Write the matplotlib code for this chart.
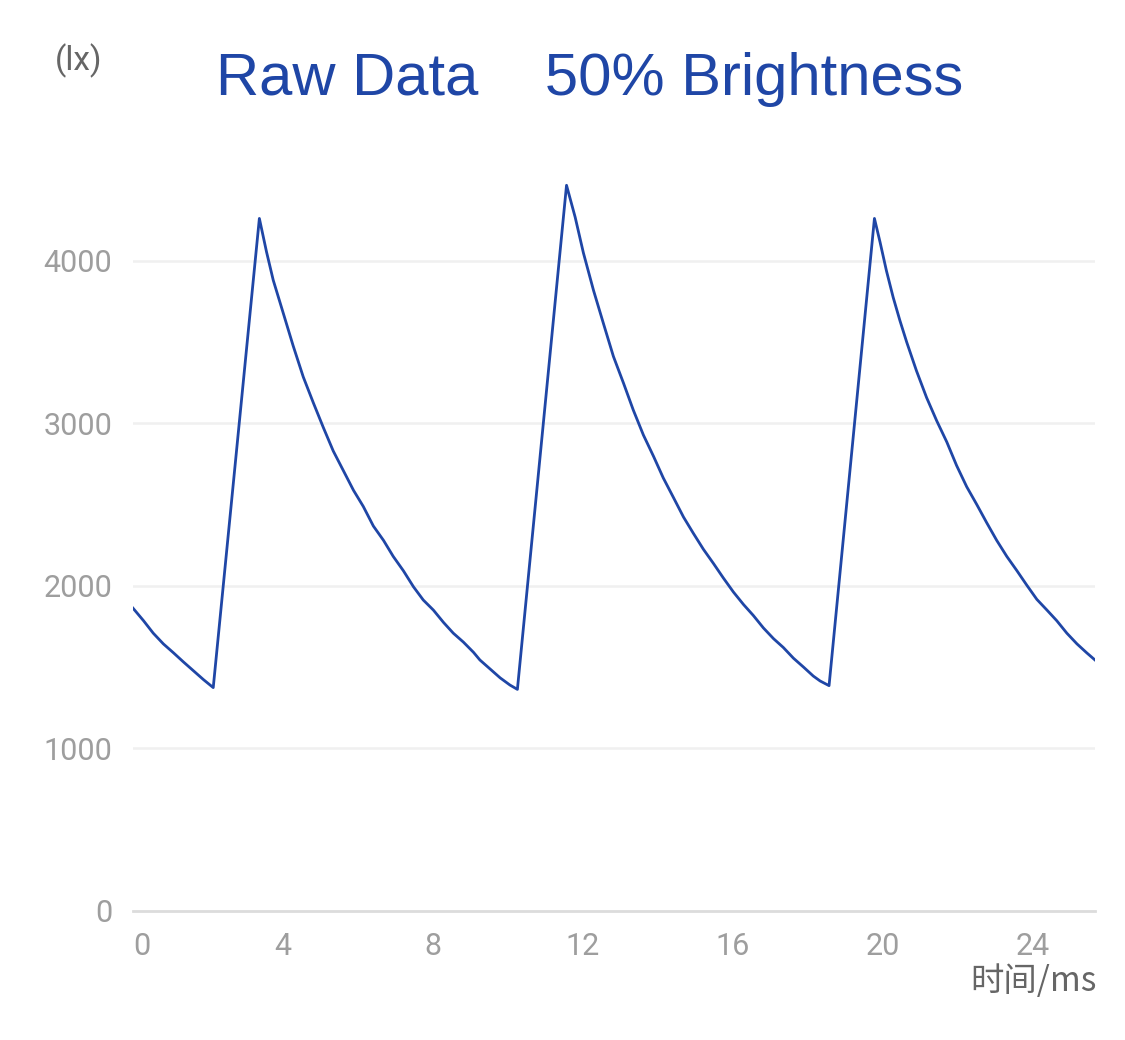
import matplotlib
matplotlib.use('Agg')
import matplotlib.pyplot as plt

# time (ms) and illuminance (lx)
t = [0, 0.28, 0.54, 0.81, 1.08, 1.34, 1.61, 1.88, 2.14,
     3.37, 3.56, 3.74, 4.01, 4.27, 4.54, 4.81, 5.08, 5.34, 5.61, 5.88,
     6.14, 6.41, 6.68, 6.94, 7.21, 7.48, 7.74, 8.01, 8.28, 8.54, 8.81,
     9.08, 9.25, 9.52, 9.79, 10.05, 10.25,
     11.56, 11.79, 12.01, 12.28, 12.55, 12.81, 13.08, 13.34, 13.61, 13.88,
     14.14, 14.41, 14.68, 14.94, 15.21, 15.48, 15.74, 16.01, 16.28, 16.54,
     16.81, 17.08, 17.34, 17.61, 17.88, 18.14, 18.32, 18.56,
     19.77, 19.92, 20.09, 20.27, 20.45, 20.63, 20.89, 21.16, 21.43, 21.70,
     21.96, 22.23, 22.50, 22.76, 23.03, 23.30, 23.57, 23.83, 24.10, 24.37,
     24.63, 24.90, 25.17, 25.43, 25.65]
lux = [1862, 1785, 1708, 1642, 1587, 1532, 1477, 1422, 1373,
       4260, 4055, 3880, 3675, 3477, 3285, 3125, 2971, 2829, 2708, 2587,
       2488, 2367, 2279, 2180, 2092, 1993, 1912, 1850, 1774, 1708, 1653,
       1590, 1543, 1488, 1433, 1389, 1362,
       4464, 4268, 4048, 3817, 3609, 3411, 3246, 3081, 2927, 2796,
       2663, 2543, 2422, 2323, 2224, 2136, 2048, 1961, 1884, 1817,
       1740, 1674, 1620, 1554, 1499, 1444, 1414, 1385,
       4260, 4114, 3938, 3774, 3631, 3499, 3323, 3158, 3015, 2884,
       2740, 2609, 2499, 2389, 2279, 2180, 2092, 2004, 1916, 1850,
       1785, 1708, 1642, 1587, 1543]

xticks = [0, 4, 8, 12, 16, 20, 24]
yticks = [0, 1000, 2000, 3000, 4000]

blue = '#1f46a6'

fig = plt.figure(figsize=(11.25, 10.4), dpi=100)
ax = fig.add_axes([0.1182, 0.1243, 0.9733 - 0.1182, 0.9056 - 0.1243])

ax.plot(t, lux, color=blue, lw=2.0, solid_joinstyle='round')

ax.set_xlim(0, 25.65)
ax.set_ylim(0, 5000)

for y in yticks[1:]:
    ax.axhline(y, color='#f0f0f0', lw=1.8, zorder=0)

for s in ['top', 'right', 'left']:
    ax.spines[s].set_visible(False)
ax.spines['bottom'].set_color('#dcdcdc')
ax.spines['bottom'].set_linewidth(2)

ax.set_xticks(xticks)
ax.set_xticklabels([str(x) for x in xticks])
ax.set_yticks(yticks)
ax.set_yticklabels([str(y) for y in yticks])
ax.tick_params(length=0, colors='#9e9e9e', labelsize=22, pad=15)
for lab in ax.get_xticklabels() + ax.get_yticklabels():
    lab.set_fontfamily('Roboto')
ax.get_xticklabels()[0].set_ha('left')

fig.text(0.5244, 0.9087, 'Raw Data    50% Brightness', color=blue,
         fontsize=43, family='Liberation Sans', ha='center', va='baseline')
fig.text(0.0702, 0.9413, '(lx)', color='#666666', fontsize=24,
         family='Roboto', ha='center', va='center')
fig.text(0.975, 0.0558, '时间/ms', color='#666666', fontsize=24,
         family=['Noto Sans CJK SC', 'DejaVu Sans'], ha='right', va='center')

fig.savefig('out.png', dpi=100)
